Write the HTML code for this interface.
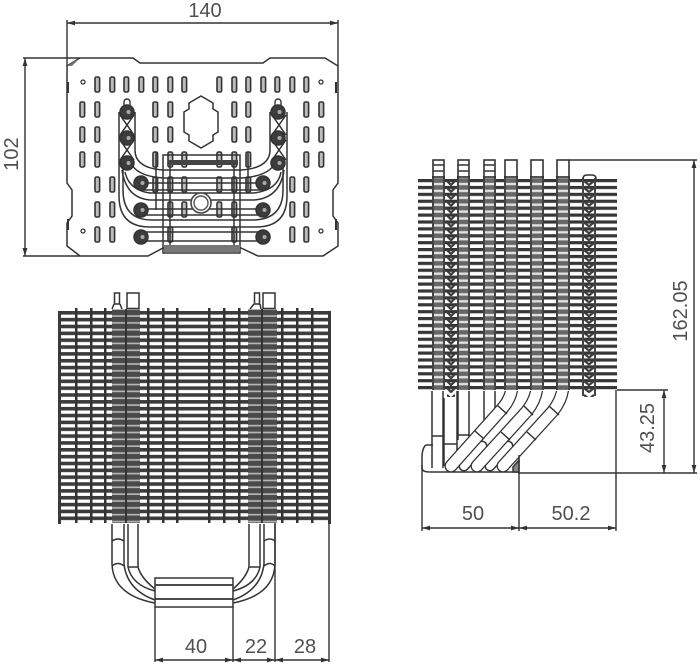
<!DOCTYPE html>
<html>
<head>
<meta charset="utf-8">
<style>
html,body{margin:0;padding:0;background:#fff;width:700px;height:668px;overflow:hidden}
svg{display:block}
text{font-family:"Liberation Sans",sans-serif;font-size:20px;fill:#505050;text-anchor:middle}
</style>
</head>
<body>
<svg width="700" height="668" viewBox="0 0 700 668" xmlns="http://www.w3.org/2000/svg">
<defs>
<pattern id="finF" patternUnits="userSpaceOnUse" x="0" y="311" width="10" height="6.85">
  <rect width="10" height="3.6" fill="#3c3c3c"/>
</pattern>
<pattern id="colF" patternUnits="userSpaceOnUse" x="0" y="311" width="10" height="6.85">
  <rect width="10" height="6.85" fill="#4a4a4a"/>
  <rect y="4.2" width="10" height="1.7" fill="#b5b5b5"/>
</pattern>
<pattern id="finS" patternUnits="userSpaceOnUse" x="0" y="179" width="10" height="6.9">
  <rect width="10" height="3.2" fill="#363636"/>
</pattern>
<pattern id="colS" patternUnits="userSpaceOnUse" x="0" y="179" width="10" height="6.9">
  <rect width="10" height="6.9" fill="#666"/>
  <rect y="3.8" width="10" height="2.4" fill="#e2e2e2"/>
</pattern>
<pattern id="chev" patternUnits="userSpaceOnUse" x="447" y="179" width="8" height="6.9">
  <path d="M0 2 L4 6 L8 2" fill="none" stroke="#3a3a3a" stroke-width="2.2"/>
</pattern>
<pattern id="chev2" patternUnits="userSpaceOnUse" x="584" y="179" width="10" height="6.9">
  <path d="M0 2 L5 6 L10 2" fill="none" stroke="#3a3a3a" stroke-width="2.2"/>
</pattern>
<clipPath id="below"><rect x="400" y="391" width="200" height="90"/></clipPath>
<rect id="s" width="4.600" height="15" rx="1.500" fill="#bdbdbd" stroke="#333" stroke-width="1.600"/>
<marker id="a" viewBox="0 0 10 6" refX="10" refY="3" markerWidth="8" markerHeight="5" markerUnits="userSpaceOnUse" orient="auto-start-reverse">
  <path d="M0 0 L10 3 L0 6 Z" fill="#333"/>
</marker>
<g id="hp"><circle r="7" fill="#3c3c3c" stroke="#333" stroke-width="1.500"/><circle cx="1.500" r="2" fill="#aaa"/></g>
</defs>

<!-- TOP VIEW -->
<path d="M67 66 L80 58 L133 58 L140 63 L263 63 L270 58 L325 58 L338 66 L338 183 L333 190 L333 216 L338 223 L338 246 L323 256 L258 256 L241 248 L163 248 L148 256 L80 256 L67 246 L67 223 L72 216 L72 190 L67 183 Z" fill="#fff" stroke="#333" stroke-width="1.500"/>
<path d="M67 66 L80 58 L72 66 Z" fill="#777"/>
<g fill="none" stroke="#333" stroke-width="1.300">
  <circle cx="83" cy="82" r="2"/><circle cx="321" cy="82" r="2"/><circle cx="83" cy="231" r="2"/><circle cx="321" cy="231" r="2"/>
</g>
<path d="M68 82v11M68 219v11M336 82v11M336 219v11" stroke="#333" stroke-width="2"/>
<g>
  <use href="#s" x="95" y="77"/><use href="#s" x="110" y="77"/><use href="#s" x="124" y="77"/><use href="#s" x="139" y="77"/><use href="#s" x="153" y="77"/><use href="#s" x="168" y="77"/><use href="#s" x="182" y="77"/>
  <use href="#s" x="217" y="77"/><use href="#s" x="232" y="77"/><use href="#s" x="246" y="77"/><use href="#s" x="261" y="77"/><use href="#s" x="275" y="77"/><use href="#s" x="290" y="77"/><use href="#s" x="304" y="77"/>

  <use href="#s" x="80" y="102"/><use href="#s" x="95" y="102"/><use href="#s" x="153" y="102"/><use href="#s" x="168" y="102"/><use href="#s" x="232" y="102"/><use href="#s" x="246" y="102"/><use href="#s" x="304" y="102"/><use href="#s" x="319" y="102"/>
  <use href="#s" x="80" y="127"/><use href="#s" x="95" y="127"/><use href="#s" x="153" y="127"/><use href="#s" x="168" y="127"/><use href="#s" x="232" y="127"/><use href="#s" x="246" y="127"/><use href="#s" x="304" y="127"/><use href="#s" x="319" y="127"/>
  <use href="#s" x="80" y="152"/><use href="#s" x="95" y="152"/><use href="#s" x="153" y="152"/><use href="#s" x="168" y="152"/><use href="#s" x="182" y="152"/><use href="#s" x="217" y="152"/><use href="#s" x="232" y="152"/><use href="#s" x="246" y="152"/><use href="#s" x="304" y="152"/><use href="#s" x="319" y="152"/>

  <use href="#s" x="95" y="177"/><use href="#s" x="110" y="177"/><use href="#s" x="153" y="177"/><use href="#s" x="168" y="177"/><use href="#s" x="182" y="177"/><use href="#s" x="217" y="177"/><use href="#s" x="232" y="177"/><use href="#s" x="246" y="177"/><use href="#s" x="290" y="177"/><use href="#s" x="304" y="177"/>
  <use href="#s" x="95" y="202"/><use href="#s" x="110" y="202"/><use href="#s" x="168" y="202"/><use href="#s" x="182" y="202"/><use href="#s" x="217" y="202"/><use href="#s" x="232" y="202"/><use href="#s" x="290" y="202"/><use href="#s" x="304" y="202"/>
  <use href="#s" x="95" y="227"/><use href="#s" x="110" y="227"/><use href="#s" x="168" y="227"/><use href="#s" x="232" y="227"/><use href="#s" x="290" y="227"/><use href="#s" x="304" y="227"/>
</g>
<path d="M201 96 L213 103 L213 109 L218 112 L218 132 L213 135 L213 141 L201 148 L189 141 L189 135 L184 132 L184 112 L189 109 L189 103 Z" fill="#fff" stroke="#333" stroke-width="1.500"/>

<!-- top heat pipes -->
<g fill="none" stroke="#333" stroke-width="1.500">
  <path d="M119 112 L119 196 Q119 227 150 227 L256 227 Q287 227 287 196 L287 112"/>
  <path d="M123 165 L123 190 Q123 220 152 220 L252 220 Q283 220 283 190 L283 165"/>
  <path d="M135 112 L135 150 Q135 168 163 170 L241 170 Q270 168 270 150 L270 112"/>
  <path d="M130 160 Q134 176 163 178 L241 178 Q272 176 276 160"/>
  <path d="M122 170 Q126 198 150 200 L254 200 Q280 198 284 170"/>
  <path d="M125 172 Q129 190 150 193 L254 193 Q278 190 281 172"/>
  <path d="M141 183 L263 183 M141 190 L263 190 M141 209 L263 209 M141 215 L263 215 M141 232 L263 232 M141 241 L263 241"/>
  <path d="M120 115 L134 135 M134 115 L120 135 M120 140 L134 160 M134 140 L120 160 M272 115 L286 135 M286 115 L272 135 M272 140 L286 160 M286 140 L272 160"/>
  <path d="M163 155 L240 155 L240 253 L163 253 Z"/>
  <path d="M170 160 V245 M234 160 V245 M156 152 V210 M248 152 V190"/>
</g>
<rect x="124" y="99" width="6" height="10" rx="3" fill="#fff" stroke="#333" stroke-width="1.400"/>
<rect x="275" y="99" width="6" height="10" rx="3" fill="#fff" stroke="#333" stroke-width="1.400"/>
<rect x="168" y="160" width="70" height="5" fill="#444"/>
<rect x="164" y="245" width="76" height="7" fill="#777"/>
<use href="#hp" x="127" y="112"/><use href="#hp" x="127" y="138"/><use href="#hp" x="127" y="163"/>
<use href="#hp" x="278" y="112"/><use href="#hp" x="278" y="138"/><use href="#hp" x="278" y="163"/>
<use href="#hp" x="141" y="183"/><use href="#hp" x="141" y="210"/><use href="#hp" x="141" y="237"/>
<use href="#hp" x="263" y="183"/><use href="#hp" x="263" y="210"/><use href="#hp" x="263" y="237"/>
<circle cx="201" cy="203" r="10" fill="#fff" stroke="#444" stroke-width="1.600"/>
<circle cx="201" cy="203" r="7" fill="none" stroke="#555" stroke-width="1.400"/>

<!-- top dims -->
<g stroke="#333" stroke-width="1.400" fill="none">
  <path d="M67 20 V66 M338 20 V66 M23 58 H80 M23 256 H80"/>
  <path d="M67 23 H338" marker-start="url(#a)" marker-end="url(#a)"/>
  <path d="M25 58 V256" marker-start="url(#a)" marker-end="url(#a)"/>
</g>
<text x="205" y="17">140</text>
<text transform="translate(18,154) rotate(-90)">102</text>

<!-- FRONT VIEW -->
<rect x="58" y="311" width="272" height="212" fill="url(#finF)"/>
<rect x="58" y="311" width="3" height="213" fill="#3a3a3a"/>
<rect x="328" y="311" width="3" height="213" fill="#3a3a3a"/>
<g fill="#333">
  <rect x="75" y="308" width="2.500" height="215"/><rect x="90" y="308" width="2.500" height="215"/><rect x="104" y="308" width="2.500" height="215"/>
  <rect x="147" y="308" width="2.500" height="215"/><rect x="162" y="308" width="2.500" height="215"/><rect x="176" y="308" width="2.500" height="215"/>
  <rect x="208" y="308" width="2.500" height="215"/><rect x="223" y="308" width="2.500" height="215"/><rect x="238" y="308" width="2.500" height="215"/>
  <rect x="281" y="308" width="2.500" height="215"/><rect x="296" y="308" width="2.500" height="215"/><rect x="311" y="308" width="2.500" height="215"/>
</g>
<rect x="112" y="309" width="28" height="214" fill="url(#colF)"/>
<rect x="248" y="309" width="29" height="214" fill="url(#colF)"/>
<path d="M126 309 V523 M262 309 V523" stroke="#333" stroke-width="2"/>
<g fill="none" stroke="#333" stroke-width="1.500">
  <rect x="114.500" y="293" width="5" height="11"/><path d="M114 304 L112 309 M120 304 L122 309"/>
  <rect x="127" y="293" width="12" height="15.500"/>
  <rect x="254.500" y="293" width="5" height="11"/><path d="M254 304 L250 309 M260 304 L261 309"/>
  <rect x="263" y="293" width="12" height="15.500"/>
</g>
<g fill="none" stroke="#333" stroke-width="1.500">
  <path d="M112 524 V564 Q113 595 155 603"/>
  <path d="M124 524 V564 Q127 590 155 600"/>
  <path d="M128 524 V567 Q132 585 155 591"/>
  <path d="M138 524 V567 Q141 578 155 589"/>
  <path d="M128 567 H138"/>
  <path d="M112 541 Q118 537 124 541 M112 566 Q118 561 124 566"/>
  <path d="M275 524 V564 Q274 595 233 603"/>
  <path d="M264 524 V564 Q261 590 233 600"/>
  <path d="M260 524 V567 Q256 585 233 591"/>
  <path d="M249 524 V567 Q246 578 233 589"/>
  <path d="M249 567 H260"/>
  <path d="M264 541 Q270 537 275 541 M264 566 Q270 561 275 566"/>
  <rect x="155" y="578" width="78" height="29" fill="#fff"/>
  <path d="M155 585 H233 M155 599 H233" stroke-width="1.800"/>
</g>
<g stroke="#333" stroke-width="1.400" fill="none">
  <path d="M155 607 V662 M233 607 V662 M275 523 V662 M329 523 V662"/>
  <path d="M155 660 H233" marker-start="url(#a)" marker-end="url(#a)"/>
  <path d="M233 660 H275" marker-start="url(#a)" marker-end="url(#a)"/>
  <path d="M275 660 H329" marker-start="url(#a)" marker-end="url(#a)"/>
</g>
<text x="196" y="653">40</text>
<text x="256" y="653">22</text>
<text x="305" y="653">28</text>

<!-- SIDE VIEW -->
<rect x="418" y="179" width="199" height="211" fill="url(#finS)"/>
<g>
  <rect x="433" y="176" width="11" height="214" fill="url(#colS)"/>
  <rect x="458" y="176" width="11" height="214" fill="url(#colS)"/>
  <rect x="484" y="176" width="11" height="214" fill="url(#colS)"/>
  <rect x="505" y="176" width="12" height="214" fill="url(#colS)"/>
  <rect x="531" y="176" width="12" height="214" fill="url(#colS)"/>
  <rect x="557" y="176" width="12" height="214" fill="url(#colS)"/>
  <rect x="447" y="179" width="8" height="218" fill="url(#chev)"/>
  <rect x="584" y="179" width="10" height="218" fill="url(#chev2)"/>
</g>
<g fill="#444">
  <rect x="432" y="176" width="2" height="214"/><rect x="443" y="176" width="2" height="214"/>
  <rect x="457" y="176" width="2" height="214"/><rect x="468" y="176" width="2" height="214"/>
  <rect x="483" y="176" width="2" height="214"/><rect x="494" y="176" width="2" height="214"/>
  <rect x="504" y="176" width="2" height="214"/><rect x="516" y="176" width="2" height="214"/>
  <rect x="530" y="176" width="2" height="214"/><rect x="542" y="176" width="2" height="214"/>
  <rect x="556" y="176" width="2" height="214"/><rect x="568" y="176" width="2" height="214"/>
  <rect x="582" y="178" width="2" height="218"/><rect x="594" y="178" width="2" height="218"/>
</g>
<g fill="none" stroke="#333" stroke-width="1.600">
  <rect x="433" y="160" width="11" height="17"/><path d="M433 165 H444 M433 171 H444"/>
  <rect x="458" y="160" width="11" height="17"/><path d="M458 165 H469 M458 171 H469"/>
  <rect x="484" y="160" width="11" height="17"/><path d="M484 165 H495 M484 171 H495"/>
  <rect x="505" y="160" width="12" height="17"/>
  <rect x="531" y="160" width="12" height="17"/>
  <rect x="557" y="160" width="12" height="17"/>
  <path d="M583 179 Q583 175 587 175 H592 Q596 175 596 179"/>
</g>
<!-- side lower pipes -->
<g fill="none" stroke="#333" stroke-width="1.500">
  <path d="M432 391 V468 M443 391 V468 M432 436 H443"/>
  <path d="M444 398 V466 M457 391 V466 M444 444 H457"/>
  <path d="M458 391 V440 M469 391 V440 M458 435 H469"/>
  <path d="M484 391 V420 M495 391 V410"/>
  <path d="M426 445 Q422 448 422 458 V468 Q422 472 430 472"/>
  <path d="M426 445 H433 M430 472 H518"/>
</g>
<g fill="none" stroke-linecap="round">
  <path d="M464 466 L482 446" stroke="#333" stroke-width="11"/>
  <path d="M464 466 L482 446" stroke="#fff" stroke-width="8"/>
  <path d="M490 466 L508 446" stroke="#333" stroke-width="11"/>
  <path d="M490 466 L508 446" stroke="#fff" stroke-width="8"/>
</g>
<g fill="none" clip-path="url(#below)">
  <g stroke-linecap="round">
  <path d="M451 466 L501 410 Q512 398 512 385" stroke="#333" stroke-width="13"/>
  <path d="M451 466 L501 410 Q512 398 512 385" stroke="#fff" stroke-width="10.500"/>
  <path d="M477 466 L527 411 Q537 398 537 385" stroke="#333" stroke-width="13"/>
  <path d="M477 466 L527 411 Q537 398 537 385" stroke="#fff" stroke-width="10.500"/>
  <path d="M503 466 L553 411 Q563 398 563 385" stroke="#333" stroke-width="13"/>
  <path d="M503 466 L553 411 Q563 398 563 385" stroke="#fff" stroke-width="10.500"/>
  </g>
</g>
<g stroke="#333" stroke-width="1.500" fill="none">
  <path d="M497 405 L507 414 M475 431 L484 439 M524 406 L533 415 M501 432 L510 440 M549 406 L559 415 M527 432 L536 440"/>
  <path d="M519 460 L513 467 L513 472 L519 472 Z" fill="#888"/>
</g>
<g stroke="#333" stroke-width="1.400" fill="none">
  <path d="M569 160 H697 M518 473 H697 M617 390 H668"/>
  <path d="M422 465 V531 M519 455 V531 M616 390 V531"/>
  <path d="M422 528 H519" marker-start="url(#a)" marker-end="url(#a)"/>
  <path d="M519 528 H616" marker-start="url(#a)" marker-end="url(#a)"/>
  <path d="M664 390 V473" marker-start="url(#a)" marker-end="url(#a)"/>
  <path d="M694 160 V473" marker-start="url(#a)" marker-end="url(#a)"/>
</g>
<text x="473" y="520">50</text>
<text x="571" y="520">50.2</text>
<text transform="translate(654,428) rotate(-90)">43.25</text>
<text transform="translate(687,311) rotate(-90)">162.05</text>
</svg>
</body>
</html>
